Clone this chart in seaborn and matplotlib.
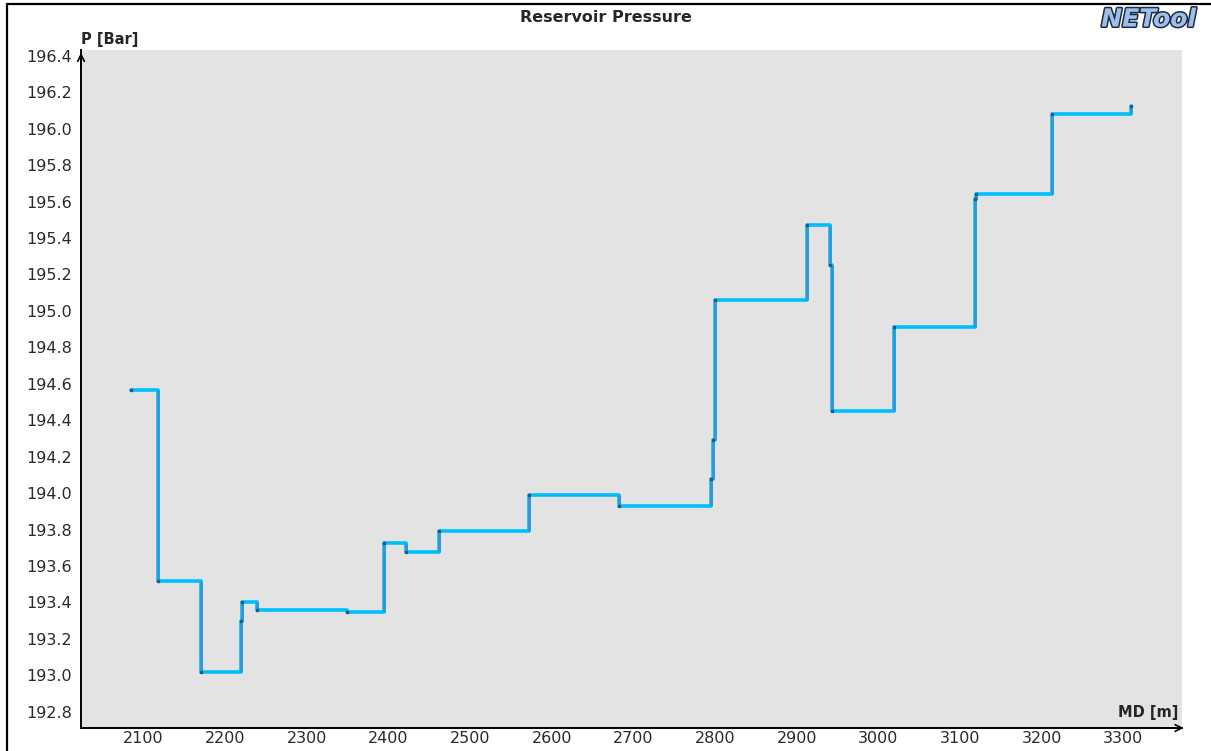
import matplotlib
matplotlib.use("Agg")
import matplotlib.pyplot as plt
import matplotlib.patheffects as pe
from matplotlib.lines import Line2D
import numpy as np
import pandas as pd
import seaborn as sns

# Measured depth where each pressure level begins [m]
md = [2085, 2118.5, 2170, 2219.6, 2221, 2239, 2349.4, 2395, 2421.6, 2461.6,
      2571.8, 2681.9, 2795.3, 2797.4, 2800.2, 2912.6, 2941, 2943, 3018.7,
      3117.9, 3119.6, 3212.6, 3308.8]
# Reservoir pressure along the well [Bar]
pressure = [194.566, 193.52, 193.02, 193.30, 193.40, 193.36, 193.345, 193.725,
            193.677, 193.795, 193.99, 193.93, 194.08, 194.29, 195.06, 195.47,
            195.25, 194.45, 194.91, 195.615, 195.64, 196.08, 196.125]

x_ticks = [2100, 2200, 2300, 2400, 2500, 2600, 2700, 2800, 2900, 3000, 3100, 3200, 3300]
y_ticks = [192.8, 193.0, 193.2, 193.4, 193.6, 193.8, 194.0, 194.2, 194.4, 194.6,
           194.8, 195.0, 195.2, 195.4, 195.6, 195.8, 196.0, 196.2, 196.4]

df = pd.DataFrame({"md": md, "pressure": pressure})

sns.set_style("white")
plt.rcParams["font.family"] = ["DejaVu Sans"]

fig = plt.figure(figsize=(12.11, 7.51), dpi=100)
ax = fig.add_axes([0.0669, 0.0306, 0.9092, 0.9028])
ax.set_facecolor("#e3e3e3")

sns.lineplot(data=df, x="md", y="pressure", drawstyle="steps-post",
             sort=False, estimator=None, color="#00bfff", linewidth=2.6, ax=ax)

# darker risers between pressure levels
ax.vlines(md[1:], pressure[:-1], pressure[1:], color="#3596d2", linewidth=2.0, zorder=3)
ax.plot(md, pressure, linestyle="none", marker="s", markersize=1.8,
        color="#1b5e8c", zorder=4)

ax.set_xlim(2023.7, 3371.8)
ax.set_ylim(192.711, 196.432)
ax.set_xticks(x_ticks)
ax.set_yticks(y_ticks)
ax.set_xticklabels([str(v) for v in x_ticks])
ax.set_yticklabels([f"{v:.1f}" for v in y_ticks])
ax.tick_params(axis="both", direction="inout", length=9, width=1.2,
               colors="black", labelsize=11.5, labelcolor="#2a2a2a")
ax.tick_params(axis="y", pad=2)
ax.tick_params(axis="x", pad=-2.5)
ax.set_xlabel("")
ax.set_ylabel("")

for s in ("top", "right"):
    ax.spines[s].set_visible(False)
for s in ("left", "bottom"):
    ax.spines[s].set_color("black")
    ax.spines[s].set_linewidth(1.4)

# axis arrows
ax.annotate("", xy=(0, 1.0), xytext=(0, 0.97), xycoords="axes fraction",
            arrowprops=dict(arrowstyle="->", lw=1.2, color="black",
                            mutation_scale=12), annotation_clip=False)
ax.annotate("", xy=(1.004, 0), xytext=(0.98, 0), xycoords="axes fraction",
            arrowprops=dict(arrowstyle="->", lw=1.2, color="black",
                            mutation_scale=12), annotation_clip=False)

ax.text(0.0, 1.005, "P [Bar]", transform=ax.transAxes, fontsize=10.5,
        fontweight="bold", ha="left", va="bottom")
ax.text(0.997, 0.012, "MD [m]", transform=ax.transAxes, fontsize=10.5,
        fontweight="bold", ha="right", va="bottom")

fig.text(0.5, 0.977, "Reservoir Pressure", fontsize=11.5, fontweight="bold",
         ha="center", va="center")
fig.text(0.9875, 0.974, "NETool", fontsize=18, fontweight="bold",
         fontstyle="italic", ha="right", va="center", color="#9cc0ea",
         path_effects=[pe.withStroke(linewidth=2.2, foreground="#1e2a44")])

# outer frame
fig.add_artist(Line2D([0.0058, 1.0], [0.9947, 0.9947], transform=fig.transFigure,
                      color="black", linewidth=1.6))
fig.add_artist(Line2D([0.0058, 0.0058], [0.0, 0.9947], transform=fig.transFigure,
                      color="black", linewidth=1.6))

fig.savefig("out.png", dpi=100, facecolor="white")
